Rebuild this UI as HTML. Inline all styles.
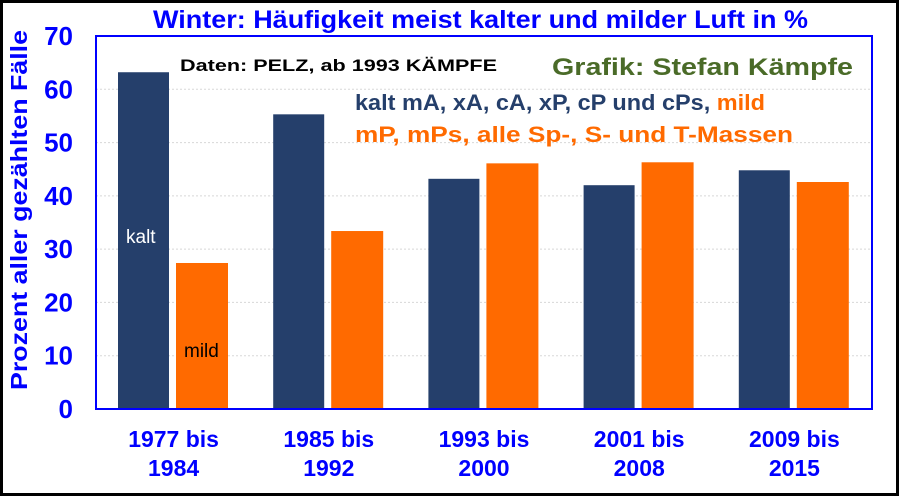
<!DOCTYPE html>
<html><head><meta charset="utf-8"><style>
body{margin:0;background:#fff}
#wrap{position:relative;width:899px;height:496px;box-sizing:border-box;border:3px solid #000;background:#fff;overflow:hidden;font-family:"Liberation Sans",sans-serif}
</style></head><body>
<div id="wrap">
<svg id="chart" width="893" height="490" viewBox="3 3 893 490" style="position:absolute;left:0;top:0"></svg>
</div>
<script>
const categories=[["1977 bis","1984"],["1985 bis","1992"],["1993 bis","2000"],["2001 bis","2008"],["2009 bis","2015"]];
const kaltValues=[63.2,55.3,43.2,42.0,44.8];
const mildValues=[27.4,33.4,46.1,46.3,42.6];
const yTicks=[0,10,20,30,40,50,60,70];
const NS="http://www.w3.org/2000/svg";
const svg=document.getElementById('chart');
const L=96,R=872,T=36,B=409,YMAX=70;
const y=v=>B-(v/YMAX)*(B-T);
const gw=(R-L)/categories.length;
const x=i=>L+i*gw;
function mk(tag,attrs,txt){const e=document.createElementNS(NS,tag);for(const k in attrs)e.setAttribute(k,attrs[k]);if(txt!==undefined)e.textContent=txt;svg.appendChild(e);return e;}
yTicks.forEach(t=>{
 if(t>0&&t<70){const g=mk('line',{x1:L,x2:R,y1:y(t),y2:y(t),stroke:'#d8d8d8','stroke-dasharray':'2,2'});
 
 }
 const tl=mk('text',{x:73,y:y(t)+9,'text-anchor':'end','font-size':'26','font-weight':'bold',fill:'#0000ff'},t);
 
 
});
categories.forEach((c,i)=>{
 const k=mk('rect',{x:x(i)+22,y:y(kaltValues[i]),width:51,height:B-y(kaltValues[i]),fill:'#253f6b'});
 
 
 const m=mk('rect',{x:x(i)+80,y:y(mildValues[i]),width:52,height:B-y(mildValues[i]),fill:'#ff6a00'});
 
 
 const cx=x(i)+gw/2;
 const l1=mk('text',{x:cx,y:447,'text-anchor':'middle','font-size':'23','font-weight':'bold',fill:'#0000ff'},c[0]);
 
 
 const l2=mk('text',{x:cx,y:476,'text-anchor':'middle','font-size':'23','font-weight':'bold',fill:'#0000ff'},c[1]);
 
 
});
const fr=mk('rect',{x:L,y:T,width:R-L,height:B-T,fill:'none',stroke:'#0000ff','stroke-width':'2'});


</script>
<svg width="899" height="496" style="position:absolute;left:0;top:0;font-family:'Liberation Sans',sans-serif">
<text x="153" y="28" textLength="655" lengthAdjust="spacingAndGlyphs" font-size="25" font-weight="bold" fill="#0000ff">Winter: Häufigkeit meist kalter und milder Luft in %</text>
<text transform="translate(27,390) rotate(-90)" textLength="360" lengthAdjust="spacingAndGlyphs" font-size="23" font-weight="bold" fill="#0000ff">Prozent aller gezählten Fälle</text>
<text x="180" y="71" textLength="317" lengthAdjust="spacingAndGlyphs" font-size="17" font-weight="bold" fill="#000">Daten: PELZ, ab 1993 KÄMPFE</text>
<text x="552" y="75" textLength="301" lengthAdjust="spacingAndGlyphs" font-size="24" font-weight="bold" fill="#4a6b28">Grafik: Stefan Kämpfe</text>
<text x="355" y="110" textLength="410" lengthAdjust="spacingAndGlyphs" font-size="22" font-weight="bold" fill="#253f6b">kalt mA, xA, cA, xP, cP und cPs, <tspan fill="#ff6a00">mild</tspan></text>
<text x="355" y="142" textLength="438" lengthAdjust="spacingAndGlyphs" font-size="22" font-weight="bold" fill="#ff6a00">mP, mPs, alle Sp-, S- und T-Massen</text>
<text x="126" y="243" font-size="19" fill="#fff">kalt</text>
<text x="184" y="357" font-size="19" fill="#000">mild</text>
</svg>
</body></html>
